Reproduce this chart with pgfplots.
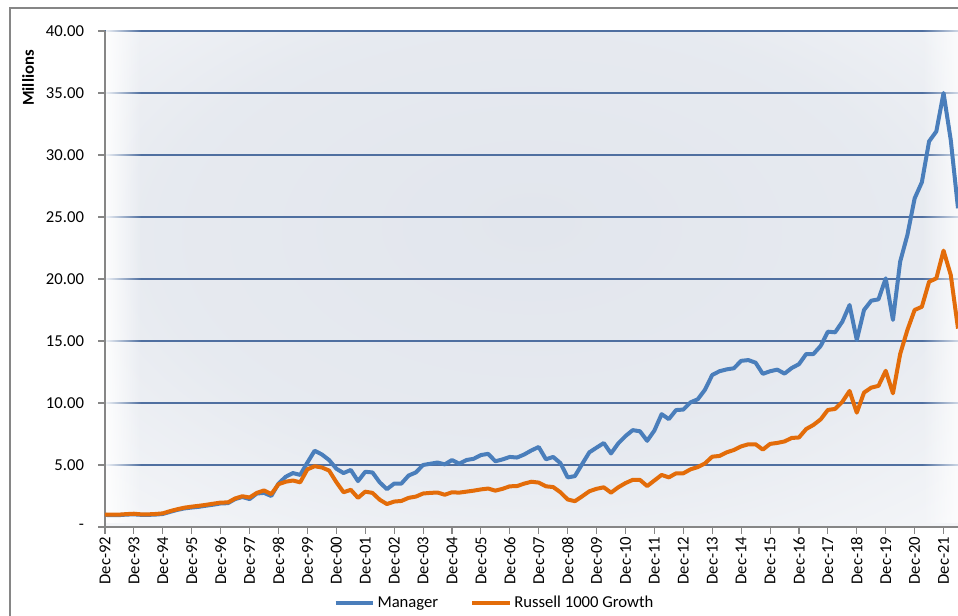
\documentclass[border=0pt]{standalone}
\usepackage{pgfplots}
\usepackage{pgfplotstable}
\pgfplotsset{compat=1.18}
\usetikzlibrary{fadings}
\usepackage{fontspec}
\setmainfont{Carlito}
\definecolor{mgr}{HTML}{4A7EBB}
\definecolor{rus}{HTML}{E36C09}
\definecolor{gridc}{HTML}{4F6FA0}
\definecolor{axc}{HTML}{868686}
\definecolor{bgmid}{HTML}{E2E6ED}
\pgfdeclareradialshading{plotbg}{\pgfpoint{0bp}{6bp}}{color(0bp)=(bgmid); color(22bp)=(bgmid!85!white); color(50bp)=(white); color(72bp)=(white)}
\tikzfading[name=fadeR, left color=transparent!10, right color=transparent!100]
\tikzfading[name=fadeL, left color=transparent!100, right color=transparent!20]
\pgfplotstableread{
i mgr rus
0 0.97 1.00
1 0.96 1.00
2 0.96 1.00
3 1.00 1.04
4 1.02 1.07
5 0.98 1.02
6 0.98 1.02
7 1.00 1.05
8 1.05 1.10
9 1.22 1.28
10 1.38 1.43
11 1.50 1.56
12 1.57 1.64
13 1.63 1.71
14 1.72 1.79
15 1.80 1.88
16 1.90 1.97
17 1.92 1.98
18 2.25 2.30
19 2.42 2.48
20 2.25 2.38
21 2.70 2.75
22 2.75 2.95
23 2.50 2.65
24 3.50 3.45
25 4.05 3.65
26 4.35 3.75
27 4.20 3.60
28 5.20 4.65
29 6.15 4.90
30 5.85 4.80
31 5.40 4.55
32 4.70 3.62
33 4.35 2.80
34 4.60 3.00
35 3.70 2.35
36 4.45 2.85
37 4.40 2.75
38 3.60 2.20
39 3.05 1.85
40 3.50 2.05
41 3.50 2.10
42 4.15 2.35
43 4.40 2.45
44 5.00 2.70
45 5.10 2.75
46 5.20 2.78
47 5.05 2.60
48 5.40 2.80
49 5.10 2.77
50 5.40 2.85
51 5.50 2.93
52 5.80 3.03
53 5.90 3.10
54 5.30 2.93
55 5.45 3.08
56 5.65 3.28
57 5.60 3.30
58 5.85 3.50
59 6.18 3.65
60 6.45 3.58
61 5.46 3.28
62 5.65 3.22
63 5.15 2.80
64 4.00 2.22
65 4.10 2.08
66 5.07 2.47
67 6.02 2.88
68 6.40 3.08
69 6.77 3.20
70 5.93 2.77
71 6.74 3.20
72 7.33 3.54
73 7.81 3.80
74 7.72 3.80
75 6.95 3.30
76 7.78 3.75
77 9.10 4.20
78 8.70 4.00
79 9.43 4.33
80 9.47 4.33
81 10.05 4.65
82 10.30 4.83
83 11.07 5.13
84 12.26 5.67
85 12.56 5.73
86 12.71 6.02
87 12.80 6.21
88 13.40 6.50
89 13.46 6.67
90 13.25 6.67
91 12.35 6.24
92 12.56 6.70
93 12.69 6.78
94 12.37 6.90
95 12.82 7.18
96 13.13 7.22
97 13.95 7.90
98 13.95 8.23
99 14.60 8.68
100 15.75 9.44
101 15.70 9.52
102 16.56 10.10
103 17.90 10.97
104 15.08 9.22
105 17.50 10.84
106 18.25 11.24
107 18.36 11.38
108 20.05 12.60
109 16.70 10.78
110 21.40 13.95
111 23.55 15.89
112 26.50 17.50
113 27.80 17.76
114 31.10 19.78
115 31.90 20.05
116 35.00 22.29
117 31.20 20.32
118 25.70 16.00
}\datatable
\begin{document}
\begin{tikzpicture}
\path[use as bounding box] (0pt,0pt) rectangle (718.5pt,462pt);
\draw[axc, line width=0.8pt] (7.5pt,-5pt) -- (7.5pt,456pt) -- (730pt,456pt);
\node[rotate=90, font=\bfseries\fontsize{12.5}{14}\selectfont] at (21pt,403.5pt) {Millions};
\begin{axis}[
  at={(78.75pt,66.75pt)}, anchor=south west,
  scale only axis, width=639.75pt, height=372pt,
  xmin=0, xmax=118, ymin=0, ymax=40,
  axis x line*=bottom, axis y line*=left,
  axis line style={axc, line width=0.8pt},
  every tick/.style={axc, line width=0.8pt},
  major tick length=5.25pt, tick align=outside,
  xtick={0,4,...,116},
  xticklabels={Dec-92,Dec-93,Dec-94,Dec-95,Dec-96,Dec-97,Dec-98,Dec-99,Dec-00,Dec-01,Dec-02,Dec-03,Dec-04,Dec-05,Dec-06,Dec-07,Dec-08,Dec-09,Dec-10,Dec-11,Dec-12,Dec-13,Dec-14,Dec-15,Dec-16,Dec-17,Dec-18,Dec-19,Dec-20,Dec-21},
  xticklabel style={rotate=90, anchor=east, inner sep=2pt, font=\fontsize{12.5}{14}\selectfont},
  ytick={0,5,...,40},
  yticklabels={-,5.00,10.00,15.00,20.00,25.00,30.00,35.00,40.00},
  yticklabel style={font=\fontsize{12.5}{14}\selectfont, xshift=-7pt},
  ymajorgrids, major grid style={gridc, line width=0.9pt},
  axis background/.style={shading=plotbg},
  legend columns=2,
  legend style={draw=none, fill=none, at={(axis description cs:0.457,-0.153)}, anchor=center, font=\fontsize{12.5}{14}\selectfont, /tikz/every even column/.append style={column sep=22pt}},
  legend image code/.code={\draw[#1, line width=3pt] (0pt,0pt) -- (28pt,0pt);},
]
\fill[white, path fading=fadeR] (axis cs:0.1,0.3) rectangle (axis cs:5,40.5);
\fill[white, path fading=fadeL] (axis cs:113,0.3) rectangle (axis cs:118.5,40.5);
\addplot[mgr, line width=3pt, line join=round, no markers] table[x=i, y=mgr] {\datatable};
\addlegendentry{Manager}
\addplot[rus, line width=3pt, line join=round, no markers] table[x=i, y=rus] {\datatable};
\addlegendentry{Russell 1000 Growth}
\end{axis}
\end{tikzpicture}
\end{document}
